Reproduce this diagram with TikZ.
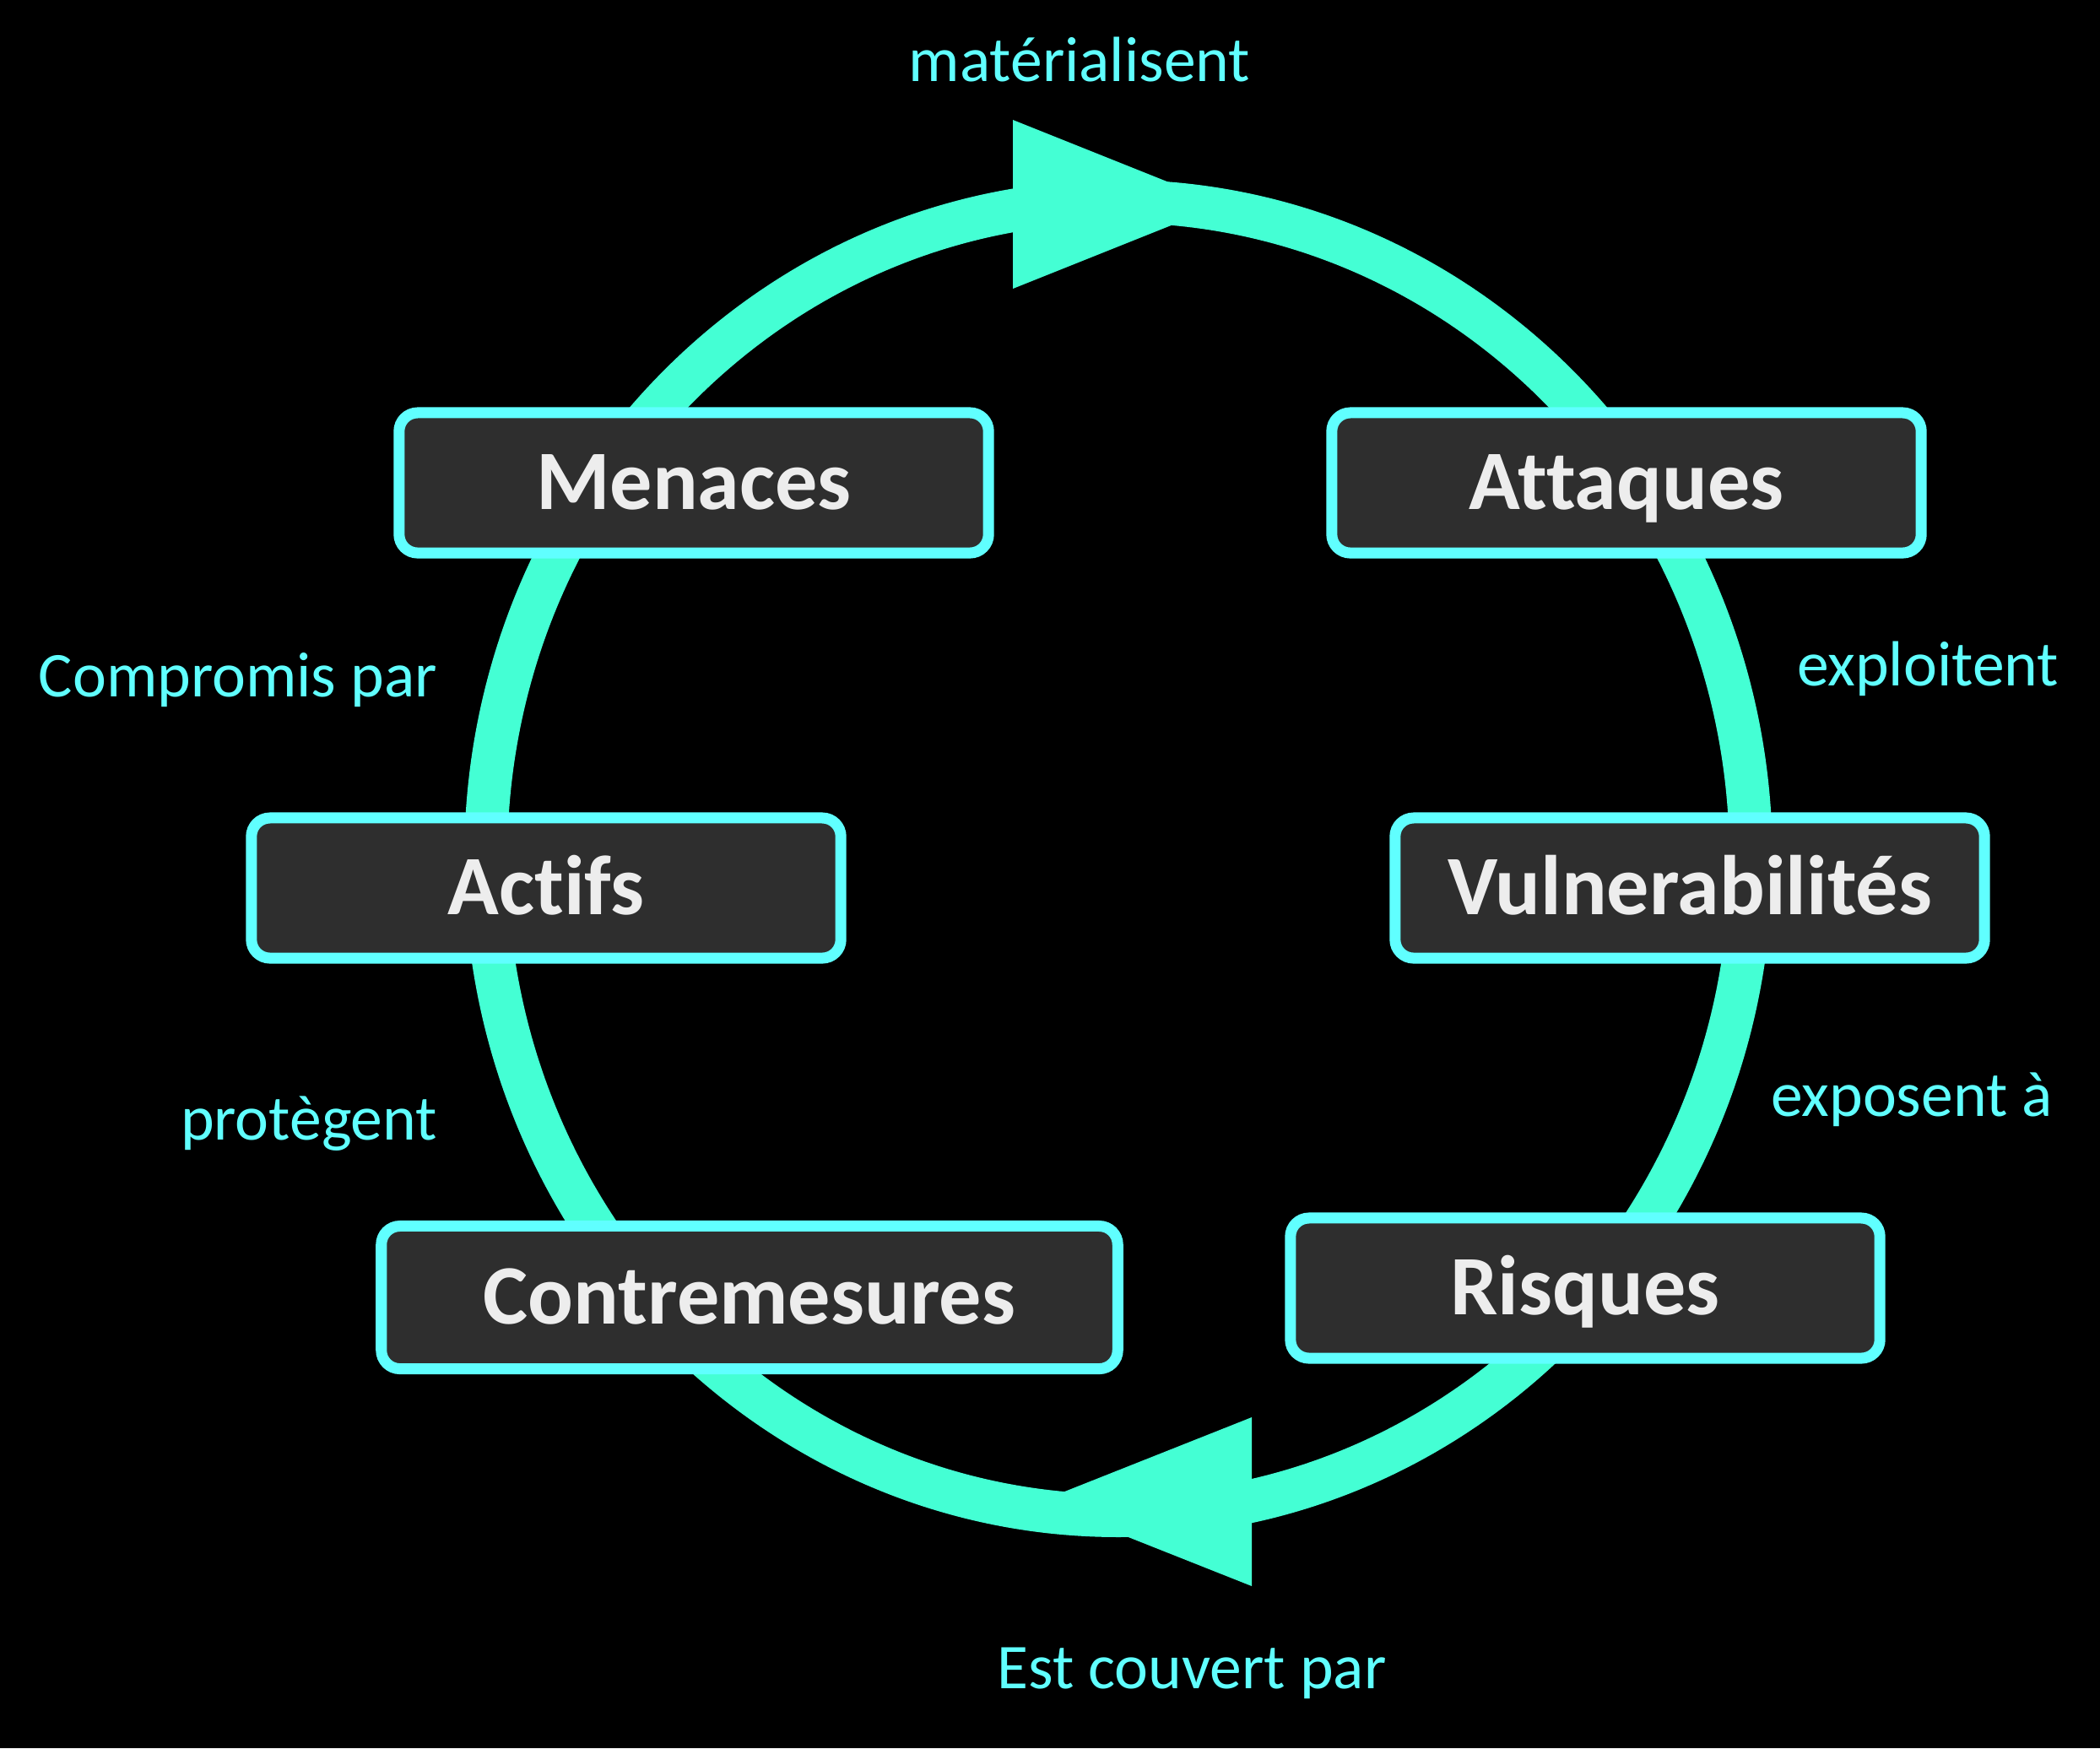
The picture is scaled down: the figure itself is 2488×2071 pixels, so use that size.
\documentclass[tikz,border=0pt]{standalone}
\usepackage{fontspec}
\setmainfont{Carlito}[Ligatures=CommonOff]

\definecolor{ringcol}{HTML}{44FFD4}
\definecolor{edgecol}{HTML}{60FFFF}
\definecolor{boxcol}{HTML}{2E2E2E}
\definecolor{textcol}{HTML}{EDEDED}

\tikzset{
  concept/.style={draw=edgecol, fill=boxcol, line width=0.13cm,
    rounded corners=0.22cm, minimum width=6.98cm, minimum height=1.66cm,
    text height=0.63cm, text depth=0pt, inner sep=0pt, text=textcol,
    font=\fontsize{28.5}{30}\selectfont\bfseries},
  relation/.style={text=edgecol, anchor=base, inner sep=0pt,
    font=\fontsize{21.5}{24}\selectfont}
}

\begin{document}
\begin{tikzpicture}[x=0.01cm, y=-0.01cm]

    % --- Background and page size ---
    \fill[black] (0,0) rectangle (2488,2071);
    \useasboundingbox (0,0) rectangle (2488,2071);

    % --- Define Coordinates ---
    % Centre of the ring
    \coordinate (O) at (1325,1017);

    % Arrow head at the top (points right)
    \coordinate (T1) at (1200,142);
    \coordinate (T2) at (1450,242);
    \coordinate (T3) at (1200,342);

    % Arrow head at the bottom (points left)
    \coordinate (B1) at (1483,1679);
    \coordinate (B2) at (1231,1779);
    \coordinate (B3) at (1483,1879);

    % --- Drawing the Ring ---
    \draw[ringcol, line width=0.51cm] (O) ellipse [x radius=7.49cm, y radius=7.78cm];
    \fill[ringcol] (T1) -- (T2) -- (T3) -- cycle;
    \fill[ringcol] (B1) -- (B2) -- (B3) -- cycle;

    % --- Boxes ---
    \node[concept] (menaces) at (822,572) {Menaces};
    \node[concept] (attaques) at (1927,572) {Attaques};
    \node[concept] (actifs) at (647,1052) {Actifs};
    \node[concept] (vulner) at (2002,1052) {Vulnerabilités};
    \node[concept, minimum width=8.72cm, minimum height=1.69cm] (contre) at (888,1537) {Contremesures};
    \node[concept] (risques) at (1878,1526) {Risques};

    % --- Labels ---
    \node[relation] (materialise) at (1279,96) {matérialisent};
    \node[relation] (exploite) at (2284,812) {exploitent};
    \node[relation] (expose) at (2265,1322) {exposent à};
    \node[relation] (couvert) at (1412,2000) {Est couvert par};
    \node[relation] (protege) at (366,1350) {protègent};
    \node[relation] (compromis) at (282,825) {Compromis par};

\end{tikzpicture}
\end{document}
